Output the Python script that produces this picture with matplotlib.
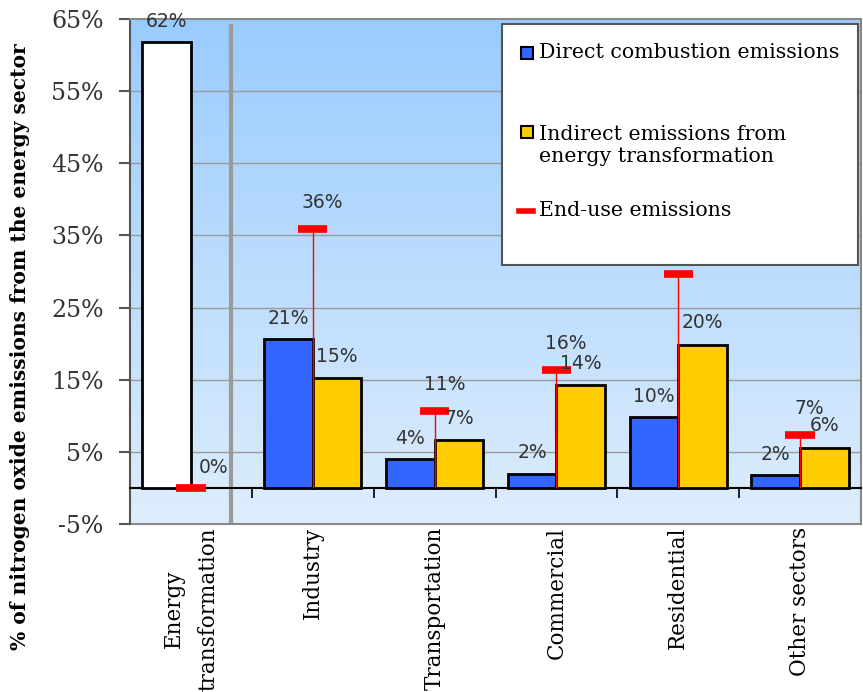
import numpy as np
import matplotlib
matplotlib.use("Agg")
import matplotlib.pyplot as plt
from matplotlib.patches import Rectangle
from matplotlib.lines import Line2D

sectors = ["Energy\ntransformation", "Industry", "Transportation",
           "Commercial", "Residential", "Other sectors"]
direct = [61.8, 20.6, 4.0, 2.0, 9.8, 1.8]
indirect = [np.nan, 15.2, 6.6, 14.2, 19.8, 5.6]
end_use = [0.0, 35.9, 10.7, 16.4, 29.7, 7.3]
yticks = [-5, 5, 15, 25, 35, 45, 55, 65]

blue = "#3366FF"
yellow = "#FFCC00"
red = "#FF0000"
grid_c = "#9a9a9a"
txt_c = "#333333"
serif = "DejaVu Serif"

fig = plt.figure(figsize=(8.63, 6.92), dpi=100)
ax = fig.add_axes([130 / 863, 1 - 524 / 692, 731 / 863, 505 / 692])

# gradient background
grad = np.linspace(0, 1, 256).reshape(-1, 1)
top = np.array([0.60, 0.80, 1.00])
bot = np.array([0.87, 0.93, 0.99])
img = bot + (top - bot) * grad
ax.imshow(img[:, None, :].repeat(2, axis=1), extent=[-0.5, 5.5, -5, 65],
          origin="lower", aspect="auto", zorder=0)

ax.set_xlim(-0.5, 5.5)
ax.set_ylim(-5, 65)

for y in yticks[1:-1]:
    ax.axhline(y, color=grid_c, lw=1.0, zorder=1)

x = np.arange(len(sectors))
w = 0.4
colors = ["white"] + [blue] * (len(sectors) - 1)
ax.bar(x - w / 2, direct, w, color=colors, edgecolor="black", lw=2, zorder=3)
ax.bar(x + w / 2, indirect, w, color=yellow, edgecolor="black", lw=2, zorder=3)

# end-use markers with drop lines
ax.vlines(x, 0, end_use, color=red, lw=1.0, zorder=4)
ax.hlines(end_use, x - 0.12, x + 0.12, color=red, lw=5.5, zorder=5)

# separator after energy transformation
ax.vlines(0.33, -5, 64.3, color=grid_c, lw=3, zorder=2)

# labels
lab_kw = dict(fontsize=13.5, color=txt_c, family="DejaVu Sans", ha="center",
              va="center", zorder=6)
for xi, v in zip(x, direct):
    ax.annotate(f"{v:.0f}%", (xi - w / 2, v), xytext=(0, 15),
                textcoords="offset points", **lab_kw)
for xi, v in zip(x, indirect):
    if not np.isnan(v):
        ax.annotate(f"{v:.0f}%", (xi + w / 2, v), xytext=(0, 16),
                    textcoords="offset points", **lab_kw)
for xi, v in zip(x, end_use):
    dx, dy = (16, 15) if v == 0 else (7, 19)
    ax.annotate(f"{v:.0f}%", (xi, v), xytext=(dx, dy),
                textcoords="offset points", **lab_kw)

# axes styling
for s in ["top", "right", "left"]:
    ax.spines[s].set_color("#888888")
    ax.spines[s].set_linewidth(1.5)
ax.spines["left"].set_color("#555555")
ax.spines["bottom"].set_position(("data", 0))
ax.spines["bottom"].set_color("black")
ax.spines["bottom"].set_linewidth(1.5)
ax.axhline(-5, color="#888888", lw=1.5, zorder=2, clip_on=False)

ax.set_yticks(yticks)
ax.set_yticklabels([f"{t}%" for t in yticks], fontsize=17, family=serif,
                   color=txt_c)
ax.tick_params(axis="y", length=8, width=1.5, color="#555555", pad=11)
ax.set_xticks(x[:-1] + 0.5)
ax.set_xticklabels([])
ax.tick_params(axis="x", length=7, width=1.2, color="black", direction="out")

for xi, name in zip(x, sectors):
    ax.text(xi, -5.4, name, rotation=90, ha="center", va="top",
            fontsize=15.5, family=serif, color="black", linespacing=1.75)

fig.text(20 / 863, 1 - 347 / 692,
         "% of nitrogen oxide emissions from the energy sector",
         rotation=90, ha="center", va="center", fontsize=14.6,
         fontweight="bold", family=serif)

# legend box drawn by hand
lx0, lx1 = (502 - 130) / 731, (858 - 130) / 731
ly0, ly1 = (524 - 265) / 505, (524 - 24) / 505
ax.add_patch(Rectangle((lx0, ly0), lx1 - lx0, ly1 - ly0, transform=ax.transAxes,
                       facecolor="white", edgecolor="#555555", lw=1.5,
                       zorder=10))
def px(xp, yp):
    return (xp - 130) / 731, (524 - yp) / 505

leg_kw = dict(transform=ax.transAxes, fontsize=14.8, family=serif, color="black",
              va="center", ha="left", zorder=11, linespacing=1.2)
for col, yp in [(blue, 53), (yellow, 132)]:
    ax.add_patch(Rectangle(px(521, yp + 6), 12 / 731, 12 / 505,
                           transform=ax.transAxes, facecolor=col,
                           edgecolor="black", lw=1.5, zorder=11))
ax.text(*px(539, 53), "Direct combustion emissions", **leg_kw)
ax.text(*px(539, 145), "Indirect emissions from\nenergy transformation", **leg_kw)
ax.add_line(Line2D([px(519, 0)[0], px(533, 0)[0]], [px(0, 211)[1]] * 2,
                   transform=ax.transAxes, color=red, lw=4, zorder=11))
ax.text(*px(539, 211), "End-use emissions", **leg_kw)

fig.savefig("out.png", dpi=100)
